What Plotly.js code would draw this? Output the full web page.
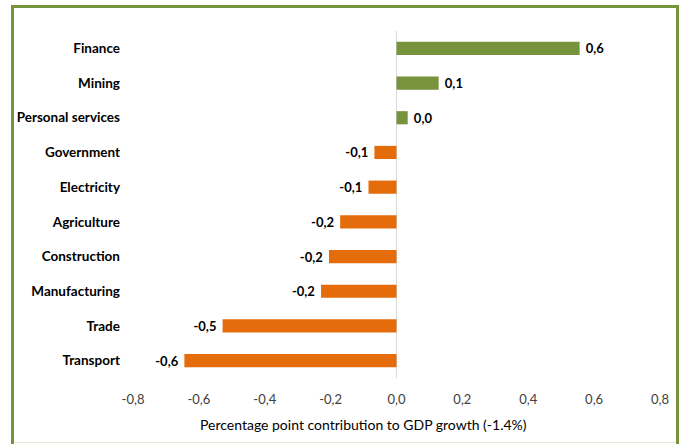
<!DOCTYPE html>
<html>
<head>
<meta charset="utf-8">
<script src="https://cdn.plot.ly/plotly-3.0.1.min.js"></script>
<style>
  html, body { margin: 0; padding: 0; background: #fff; }
  #wrap { position: relative; width: 684px; height: 444px; overflow: hidden; }
  #chart { position: absolute; left: 0; top: 0; width: 684px; height: 444px; }
  #frame { position: absolute; left: 11px; top: 5px; width: 662px; height: 460px;
           border: 3px solid #77933C; pointer-events: none; }
  #inner { position: absolute; left: 14px; top: 442px; width: 662px; height: 1px;
           background: #e4e9d8; pointer-events: none; }
</style>
</head>
<body>
<div id="wrap">
  <div id="chart"></div>
  <div id="frame"></div>
  <div id="inner"></div>
</div>
<script>
const categories = ["Transport", "Trade", "Manufacturing", "Construction", "Agriculture",
                    "Electricity", "Government", "Personal services", "Mining", "Finance"];
const values = [-0.644, -0.528, -0.229, -0.205, -0.171, -0.085, -0.067, 0.034, 0.128, 0.556];
const tickValues = [-0.8, -0.6, -0.4, -0.2, 0, 0.2, 0.4, 0.6, 0.8];
const tickLabels = ["-0,8", "-0,6", "-0,4", "-0,2", "0,0", "0,2", "0,4", "0,6", "0,8"];
const axisTitle = "Percentage point contribution to GDP growth (-1.4%)";

const GREEN = "#77933C", ORANGE = "#E46C0A";
const FONT = "Lato, 'Liberation Sans Narrow', sans-serif";

const NB = "\u00a0";
const labels = values.map(v => {
  const s = v.toFixed(1).replace(".", ",");
  return v >= 0 ? NB + s : s + NB;
});
const colors = values.map(v => v >= 0 ? GREEN : ORANGE);

const trace = {
  type: "bar",
  orientation: "h",
  y: categories,
  x: values,
  marker: { color: colors, line: { width: 0 } },
  text: labels,
  textposition: "outside",
  constraintext: "none",
  cliponaxis: false,
  textfont: { family: FONT, size: 13, color: "#000", weight: "bold" },
  hoverinfo: "none"
};

const layout = {
  width: 684, height: 444,
  margin: { l: 133, r: 24, t: 31, b: 66 },
  paper_bgcolor: "#fff", plot_bgcolor: "#fff",
  showlegend: false,
  bargap: 0.62,
  font: { family: FONT, color: "#000" },
  xaxis: {
    range: [-0.8, 0.8],
    tickvals: tickValues, ticktext: tickLabels,
    showgrid: false, zeroline: true, zerolinecolor: "#d9d9d9", zerolinewidth: 1,
    showline: false, ticks: "",
    tickfont: { family: FONT, size: 13, color: "#404040" },
    ticklabelstandoff: 12
  },
  yaxis: {
    type: "category",
    showgrid: false, zeroline: false, showline: false, ticks: "",
    tickfont: { family: FONT, size: 13.5, color: "#000", weight: "bold" },
    ticklabelstandoff: 12
  },
  annotations: [{
    text: axisTitle, xref: "paper", yref: "paper",
    x: (363 - 133) / 527, y: 0, yshift: -46,
    xanchor: "center", yanchor: "middle", showarrow: false,
    font: { family: FONT, size: 14, color: "#000" }
  }]
};

Plotly.newPlot("chart", [trace], layout, { staticPlot: true, displayModeBar: false });
</script>
</body>
</html>
